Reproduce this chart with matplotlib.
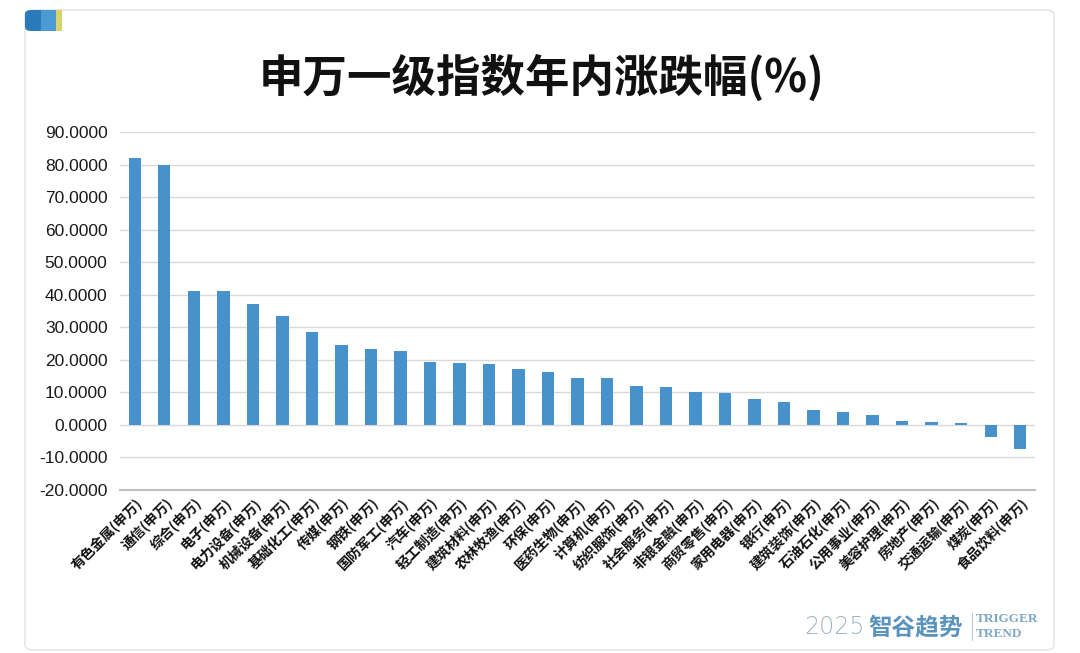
import matplotlib
matplotlib.use('Agg')
import matplotlib.pyplot as plt
from matplotlib.patches import FancyBboxPatch, Rectangle
from matplotlib.ticker import FormatStrFormatter, MultipleLocator

plt.rcParams['font.family'] = ['Noto Sans CJK SC', 'DejaVu Sans']

# data
sectors = ['有色金属', '通信', '综合', '电子', '电力设备', '机械设备', '基础化工',
           '传媒', '钢铁', '国防军工', '汽车', '轻工制造', '建筑材料', '农林牧渔',
           '环保', '医药生物', '计算机', '纺织服饰', '社会服务', '非银金融',
           '商贸零售', '家用电器', '银行', '建筑装饰', '石油石化', '公用事业',
           '美容护理', '房地产', '交通运输', '煤炭', '食品饮料']
labels = [s + '(申万)' for s in sectors]
changes = [82.1, 79.9, 41.0, 41.0, 37.3, 33.6, 28.4, 24.7, 23.2, 22.8, 19.2,
           18.9, 18.8, 17.2, 16.4, 14.5, 14.5, 12.1, 11.5, 10.1, 9.7, 7.9,
           7.1, 4.7, 4.0, 2.9, 1.3, 0.8, 0.5, -3.8, -7.3]

bar_color = '#4792cb'

fig = plt.figure(figsize=(10.8, 6.53), dpi=100)
W, H = 1080, 653

# card frame
card = FancyBboxPatch((25 / W, 3 / H), 1029 / W, 640 / H,
                      boxstyle='round,pad=0,rounding_size=0.008',
                      transform=fig.transFigure, facecolor='white',
                      edgecolor='#e6e6e6', linewidth=1.2, zorder=-2)
fig.patches.append(card)

# logo block in the corner
logo = FancyBboxPatch((25 / W, 622 / H), 32 / W, 21 / H,
                      boxstyle='round,pad=0,rounding_size=0.006',
                      transform=fig.transFigure, facecolor='#2b7bbb',
                      edgecolor='none', zorder=-1)
fig.patches.append(logo)
fig.patches.append(Rectangle((41 / W, 622 / H), 15 / W, 21 / H, transform=fig.transFigure,
                             facecolor='#4b9ad3', edgecolor='none', zorder=-1))
fig.patches.append(Rectangle((56 / W, 622 / H), 6 / W, 21 / H, transform=fig.transFigure,
                             facecolor='#d9d36e', edgecolor='none', zorder=-1))

fig.text(542 / W, 1 - 78 / H, '申万一级指数年内涨跌幅(%)', ha='center', va='center',
         fontsize=32, fontweight='bold', color='#111111')

ax = fig.add_axes([120 / W, 1 - 490 / H, 915 / W, 358 / H])
ax.set_zorder(5)
ax.patch.set_alpha(0)
x = range(len(changes))
ax.bar(x, changes, width=0.42, color=bar_color, zorder=3)

ax.set_xlim(-0.5, len(changes) - 0.5)
ax.set_ylim(-20, 90)
ax.yaxis.set_major_locator(MultipleLocator(10))
ax.yaxis.set_major_formatter(FormatStrFormatter('%.4f'))
ax.grid(axis='y', color='#d9d9d9', linewidth=1.0, zorder=0)
for side in ['top', 'right', 'left']:
    ax.spines[side].set_visible(False)
ax.spines['bottom'].set_color('#bfbfbf')
ax.spines['bottom'].set_linewidth(1.5)

ax.tick_params(axis='y', length=0, pad=9, labelsize=12.5, labelcolor='#1a1a1a')
ax.tick_params(axis='x', length=0, pad=4)
ax.set_xticks(list(x))
ax.set_xticklabels(labels, rotation=45, ha='right', rotation_mode='anchor',
                   fontsize=10, fontweight='bold', color='#111111')
for t in ax.get_yticklabels():
    t.set_family(['Liberation Sans'])

# watermark
fig.text(865 / W, 1 - 627 / H, '2025', ha='right', va='center', fontsize=17,
         color='#9fb6c6', fontweight='light', family=['DejaVu Sans'])
fig.text(868 / W, 1 - 627 / H, '智谷趋势', ha='left', va='center', fontsize=17,
         color='#5b93bd', fontweight='bold')
fig.add_artist(plt.Line2D([972 / W, 972 / W], [1 - 640 / H, 1 - 613 / H],
                          transform=fig.transFigure, color='#b8cad6', linewidth=0.8))
fig.text(976 / W, 1 - 619 / H, 'TRIGGER', ha='left', va='center', fontsize=9.5,
         color='#7ea7c4', family=['Liberation Serif'], fontweight='bold')
fig.text(976 / W, 1 - 634 / H, 'TREND', ha='left', va='center', fontsize=9.5,
         color='#7ea7c4', family=['Liberation Serif'], fontweight='bold')

fig.savefig('out.png', dpi=100, facecolor='white')
